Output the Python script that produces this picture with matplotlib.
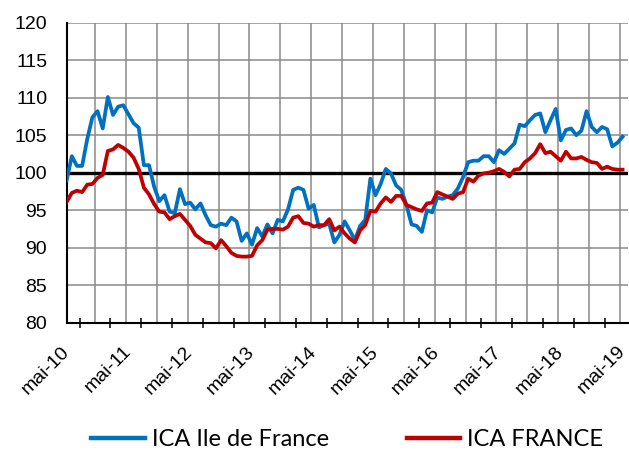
import numpy as np
import matplotlib
matplotlib.use("Agg")
import matplotlib.pyplot as plt
from matplotlib.lines import Line2D

# monthly index values, mai-10 .. mai-19
ica_idf = [
    99.0, 102.2, 100.9, 100.9, 104.5, 107.4, 108.2, 105.9, 110.1, 107.7,
    108.8, 109.0, 107.8, 106.6, 106.0, 101.0, 101.0, 98.1, 96.2, 97.0,
    94.8, 94.6, 97.8, 95.8, 96.0, 95.1, 95.9, 94.3, 93.0, 92.8,
    93.2, 93.0, 94.0, 93.5, 90.9, 91.9, 90.4, 92.6, 91.5, 93.1,
    91.9, 93.7, 93.5, 95.1, 97.7, 98.0, 97.7, 95.2, 95.7, 92.7,
    93.0, 93.2, 90.7, 91.7, 93.5, 92.3, 91.0, 92.9, 93.7, 99.2,
    97.0, 98.5, 100.5, 99.9, 98.3, 97.7, 95.7, 93.1, 92.9, 92.1,
    95.0, 94.7, 96.7, 96.5, 96.8, 97.0, 97.9, 99.4, 101.4, 101.6,
    101.6, 102.2, 102.2, 101.4, 103.0, 102.5, 103.2, 103.9, 106.4, 106.2,
    107.0, 107.7, 107.9, 105.4, 107.0, 108.5, 104.3, 105.7, 105.9, 105.0,
    105.6, 108.2, 106.1, 105.4, 106.1, 105.8, 103.5, 104.0, 104.8,
]
ica_france = [
    96.1, 97.3, 97.6, 97.4, 98.4, 98.5, 99.3, 99.7, 102.9, 103.1,
    103.7, 103.3, 102.8, 102.0, 100.5, 98.0, 97.1, 95.8, 94.8, 94.7,
    93.8, 94.2, 94.5, 93.7, 92.9, 91.7, 91.2, 90.7, 90.6, 89.9,
    91.0, 90.2, 89.3, 88.9, 88.8, 88.8, 88.9, 90.3, 91.0, 92.4,
    92.5, 92.5, 92.4, 92.8, 94.0, 94.2, 93.3, 93.2, 92.8, 93.0,
    93.0, 93.8, 92.3, 92.8, 91.9, 91.2, 90.7, 92.3, 93.0, 94.9,
    94.8, 95.9, 96.7, 96.1, 96.9, 96.9, 95.7, 95.4, 95.1, 94.9,
    95.9, 96.0, 97.4, 97.1, 96.8, 96.5, 97.2, 97.4, 99.2, 98.8,
    99.6, 99.9, 100.0, 100.2, 100.5, 100.1, 99.5, 100.4, 100.5, 101.4,
    101.9, 102.6, 103.8, 102.6, 102.8, 102.2, 101.6, 102.8, 101.9, 101.9,
    102.1, 101.7, 101.4, 101.3, 100.5, 100.8, 100.5, 100.4, 100.4,
]
year_labels = ["mai-10", "mai-11", "mai-12", "mai-13", "mai-14",
               "mai-15", "mai-16", "mai-17", "mai-18", "mai-19"]
series_names = ["ICA Ile de France", "ICA FRANCE"]

BLUE = "#0070C0"
RED = "#C00000"
GRID = "#8a8a8a"

plt.rcParams["font.family"] = ["Liberation Sans", "DejaVu Sans"]

fig = plt.figure(figsize=(6.29, 4.55), dpi=100)
ax = fig.add_axes([0.106, 0.291, 0.892, 0.659])

months = np.arange(len(ica_idf))
n_cat = len(months) + 1

# grid
ax.set_ylim(80, 120)
ax.set_yticks(np.arange(80, 121, 5))
ax.yaxis.grid(True, color=GRID, lw=1.1)
ax.vlines(np.arange(5.5, n_cat, 6), 80, 120, color=GRID, lw=1.1, zorder=0.5)
ax.set_axisbelow(True)

ax.axhline(100, color="black", lw=2.4, zorder=2)
ax.plot(months, ica_idf, color=BLUE, lw=2.7, solid_joinstyle="round", zorder=3)
ax.plot(months, ica_france, color=RED, lw=2.7, solid_joinstyle="round", zorder=3)

ax.set_xlim(0, n_cat - 1)

# tick marks every 6 months, labels every 12
ax.set_xticks(np.arange(2.5, n_cat - 1, 6))
ax.set_xticklabels([])
ax.tick_params(axis="x", which="major", direction="inout", length=7, width=1.1, color="black")
ax.set_xticks(months[::12], year_labels, minor=True)
ax.tick_params(axis="x", which="minor", length=0, pad=19, labelsize=14)
for lab in ax.get_xticklabels(minor=True):
    lab.set_rotation(45)
    lab.set_ha("right")
    lab.set_va("center")
    lab.set_rotation_mode("anchor")

ax.tick_params(axis="y", length=0, pad=14, labelsize=14)

for s in ["top", "right"]:
    ax.spines[s].set_visible(False)
for s in ["left", "bottom"]:
    ax.spines[s].set_color("black")
    ax.spines[s].set_linewidth(1.5)

handles = [Line2D([], [], color=BLUE, lw=3.2), Line2D([], [], color=RED, lw=3.2)]
fig.legend(handles, series_names, loc="center", bbox_to_anchor=(0.552, 0.033),
           ncol=2, frameon=False, handlelength=2.25, handletextpad=0.3,
           columnspacing=3.3, prop={"family": ["Lato", "DejaVu Sans"], "size": 17})

fig.savefig("out.png", dpi=100)
